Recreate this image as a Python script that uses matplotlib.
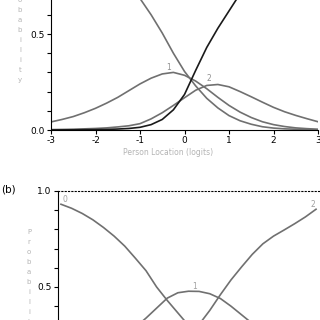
import numpy as np
import matplotlib.pyplot as plt

plt.rcParams['font.family'] = ['Liberation Sans Narrow', 'DejaVu Sans']

# (a) four-category curves, read at 0.25 logit steps
xa = np.arange(-3, 3.01, 0.25)
a_cat0 = [0.95, 0.94, 0.925, 0.905, 0.88, 0.845, 0.80, 0.74, 0.685, 0.60, 0.505, 0.40, 0.305,
          0.23, 0.165, 0.115, 0.075, 0.048, 0.03, 0.017, 0.01, 0.006, 0.004, 0.002, 0.001]
a_cat1 = [0.042, 0.055, 0.07, 0.09, 0.113, 0.14, 0.17, 0.205, 0.24, 0.27, 0.292, 0.30, 0.285,
          0.255, 0.215, 0.17, 0.128, 0.093, 0.065, 0.043, 0.028, 0.018, 0.011, 0.007, 0.004]
a_cat2 = [0.002, 0.003, 0.004, 0.006, 0.008, 0.011, 0.016, 0.022, 0.033, 0.058, 0.09, 0.128, 0.168,
          0.207, 0.232, 0.237, 0.225, 0.20, 0.173, 0.145, 0.118, 0.095, 0.076, 0.059, 0.043]
a_cat3 = [0.0005, 0.0007, 0.001, 0.0015, 0.002, 0.003, 0.005, 0.008, 0.014, 0.028, 0.055, 0.105, 0.185,
          0.31, 0.43, 0.53, 0.62, 0.71, 0.78, 0.84, 0.88, 0.91, 0.935, 0.95, 0.965]

# (b) three-category curves
b_cat0 = [0.931, 0.91, 0.883, 0.85, 0.81, 0.765, 0.713, 0.65, 0.585, 0.50, 0.43, 0.365, 0.30,
          0.24, 0.19, 0.145, 0.11, 0.08, 0.06, 0.043, 0.03, 0.022, 0.015, 0.011, 0.008]
b_cat1 = [0.06, 0.075, 0.10, 0.13, 0.16, 0.20, 0.25, 0.29, 0.338, 0.39, 0.442, 0.47, 0.478,
          0.477, 0.465, 0.44, 0.40, 0.355, 0.31, 0.26, 0.20, 0.16, 0.12, 0.09, 0.07]
b_cat2 = [0.005, 0.008, 0.011, 0.015, 0.02, 0.03, 0.04, 0.055, 0.075, 0.10, 0.13, 0.19, 0.245,
          0.305, 0.378, 0.46, 0.537, 0.605, 0.67, 0.725, 0.765, 0.797, 0.83, 0.865, 0.905]

gray = '#707070'
lab = '#b4b4b4'
ylab = 'P\nr\no\nb\na\nb\ni\nl\ni\nt\ny'

fig = plt.figure(figsize=(3.2, 3.2), dpi=100)

#------------
# panel (a), top part cut off
ax = fig.add_axes([51/320, 190/320, 267/320, 192/320])
ax.plot(xa, a_cat0, color=gray, lw=1.2)
ax.plot(xa, a_cat1, color=gray, lw=1.2)
ax.plot(xa, a_cat2, color=gray, lw=1.2)
ax.plot(xa, a_cat3, color='#1a1a1a', lw=1.2)
ax.text(-0.35, 0.323, '1', color='#909090', fontsize=5.5, ha='center', va='center')
ax.text(0.55, 0.266, '2', color='#909090', fontsize=5.5, ha='center', va='center')
ax.set_xlim(-3, 3)
ax.set_ylim(0, 1)
ax.set_xticks(range(-3, 4))
ax.set_xticklabels(['-3', '-2', '-1', '0', '1', '2', '3'])
ax.set_yticks([0, 0.5, 1.0])
ax.set_yticklabels(['0.0', '0.5', '1.0'])
ax.set_yticks(np.arange(0, 1.01, 0.1), minor=True)
ax.tick_params(which='both', length=3, width=0.8, labelsize=6.5, pad=1.5)
for s in ['top', 'right']:
    ax.spines[s].set_visible(False)
ax.text(0.44, -0.115, 'Person Location (logits)', transform=ax.transAxes, color=lab,
        fontsize=5.5, ha='center', va='center')
ax.text(20/320, 1 - 30/320, ylab, transform=fig.transFigure, color=lab, fontsize=5,
        ha='center', va='center', linespacing=1.8)

#------------
# panel (b), bottom part cut off
bx = fig.add_axes([58/320, -63/320, 261/320, 192/320])
bx.plot(xa, b_cat0, color=gray, lw=1.2)
bx.plot(xa, b_cat1, color=gray, lw=1.2)
bx.plot(xa, b_cat2, color=gray, lw=1.2)
bx.text(-2.9, 0.955, '0', color='#a0a0a0', fontsize=5.5, ha='center', va='center')
bx.text(0.14, 0.505, '1', color='#a0a0a0', fontsize=5.5, ha='center', va='center')
bx.text(2.93, 0.93, '2', color='#a0a0a0', fontsize=5.5, ha='center', va='center')
bx.set_xlim(-3.07, 3.07)
bx.set_ylim(0, 1)
bx.set_xticks([])
bx.set_yticks([0, 0.5, 1.0])
bx.set_yticklabels(['0.0', '0.5', '1.0'])
bx.set_yticks(np.arange(0, 1.01, 0.1), minor=True)
bx.tick_params(which='both', length=3, width=0.8, labelsize=6.5, pad=1.5)
bx.spines['right'].set_visible(False)
bx.spines['top'].set_linestyle((0, (1, 2)))
bx.spines['top'].set_linewidth(0.8)
bx.text(29/320, 1 - 282/320, ylab, transform=fig.transFigure, color=lab, fontsize=5,
        ha='center', va='center', linespacing=1.8)
fig.text(1/320, 1 - 190/320, '(b)', fontsize=7.5, ha='left', va='center')

plt.savefig('out.png', dpi=100)
